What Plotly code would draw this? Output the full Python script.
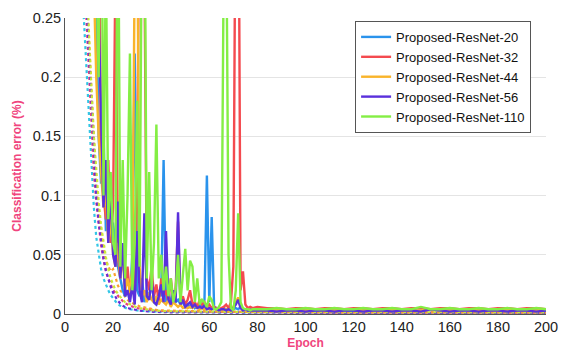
import plotly.graph_objects as go

MODELS = ["Proposed-ResNet-20", "Proposed-ResNet-32", "Proposed-ResNet-44",
          "Proposed-ResNet-56", "Proposed-ResNet-110"]
COLORS = ["#2a93ec", "#f44a4f", "#f9b42a", "#5a30dc", "#84ee44"]

DENSE_EPOCHS = list(range(1, 79))
TAIL_EPOCHS = list(range(80, 201, 4))

TEST_DENSE = [
    # ResNet-20
    [0.9, 0.8, 0.7, 0.6, 0.55, 0.5, 0.45, 0.42, 0.38, 0.35,
     0.32, 0.3, 0.27, 0.15, 0.11, 0.155, 0.07, 0.12, 0.075, 0.076,
     0.06, 0.04, 0.03, 0.02, 0.015, 0.02, 0.012, 0.05, 0.22, 0.02,
     0.015, 0.03, 0.01, 0.02, 0.012, 0.03, 0.01, 0.008, 0.02, 0.015,
     0.13, 0.01, 0.02, 0.008, 0.015, 0.01, 0.012, 0.008, 0.01, 0.006,
     0.008, 0.006, 0.01, 0.005, 0.006, 0.008, 0.005, 0.012, 0.117, 0.01,
     0.082, 0.006, 0.005, 0.004, 0.004, 0.005, 0.004, 0.004, 0.005, 0.004,
     0.005, 0.004, 0.006, 0.004, 0.004, 0.003, 0.004, 0.003],
    # ResNet-32
    [0.9, 0.85, 0.8, 0.7, 0.65, 0.6, 0.55, 0.5, 0.45, 0.4,
     0.35, 0.3, 0.26, 0.4, 0.12, 0.1, 0.08, 0.13, 0.06, 0.09,
     0.3, 0.05, 0.03, 0.06, 0.02, 0.04, 0.015, 0.03, 0.02, 0.1,
     0.4, 0.5, 0.3, 0.03, 0.02, 0.04, 0.015, 0.025, 0.01, 0.03,
     0.015, 0.02, 0.01, 0.03, 0.012, 0.02, 0.078, 0.01, 0.015, 0.008,
     0.012, 0.02, 0.008, 0.01, 0.006, 0.012, 0.008, 0.01, 0.006, 0.008,
     0.005, 0.006, 0.005, 0.004, 0.005, 0.006, 0.008, 0.005, 0.01, 0.04,
     0.4, 0.45, 0.02, 0.036, 0.008, 0.005, 0.006, 0.005],
    # ResNet-44
    [0.9, 0.8, 0.7, 0.65, 0.6, 0.55, 0.5, 0.45, 0.4, 0.35,
     0.3, 0.28, 0.2, 0.15, 0.12, 0.09, 0.1, 0.06, 0.08, 0.05,
     0.04, 0.06, 0.03, 0.05, 0.02, 0.03, 0.018, 0.04, 0.3, 0.35,
     0.04, 0.015, 0.02, 0.01, 0.018, 0.012, 0.01, 0.015, 0.008, 0.012,
     0.01, 0.008, 0.012, 0.006, 0.01, 0.008, 0.006, 0.008, 0.005, 0.006,
     0.005, 0.006, 0.005, 0.007, 0.005, 0.004, 0.005, 0.004, 0.006, 0.004,
     0.004, 0.005, 0.004, 0.004, 0.003, 0.004, 0.004, 0.003, 0.004, 0.006,
     0.01, 0.014, 0.006, 0.004, 0.003, 0.004, 0.003, 0.003],
    # ResNet-56
    [0.9, 0.85, 0.8, 0.7, 0.65, 0.6, 0.55, 0.5, 0.45, 0.4,
     0.35, 0.3, 0.28, 0.25, 0.16, 0.09, 0.13, 0.06, 0.11, 0.05,
     0.04, 0.095, 0.03, 0.06, 0.015, 0.02, 0.01, 0.025, 0.008, 0.07,
     0.02, 0.01, 0.085, 0.015, 0.012, 0.03, 0.01, 0.008, 0.015, 0.025,
     0.01, 0.07, 0.012, 0.008, 0.02, 0.01, 0.086, 0.008, 0.012, 0.006,
     0.008, 0.01, 0.006, 0.008, 0.005, 0.006, 0.005, 0.007, 0.004, 0.005,
     0.004, 0.005, 0.004, 0.003, 0.004, 0.004, 0.003, 0.004, 0.003, 0.005,
     0.008, 0.012, 0.005, 0.003, 0.004, 0.003, 0.003, 0.003],
    # ResNet-110
    [0.9, 0.85, 0.8, 0.75, 0.7, 0.65, 0.6, 0.55, 0.5, 0.45,
     0.4, 0.35, 0.3, 0.2, 0.45, 0.1, 0.3, 0.08, 0.12, 0.06,
     0.05, 0.4, 0.04, 0.13, 0.03, 0.1, 0.22, 0.02, 0.06, 0.18,
     0.04, 0.35, 0.4, 0.03, 0.12, 0.02, 0.06, 0.16, 0.03, 0.05,
     0.02, 0.04, 0.015, 0.03, 0.01, 0.02, 0.05, 0.01, 0.03, 0.055,
     0.02, 0.045, 0.04, 0.01, 0.03, 0.008, 0.012, 0.01, 0.006, 0.015,
     0.012, 0.004, 0.004, 0.006, 0.01, 0.3, 0.35, 0.05, 0.005, 0.003,
     0.02, 0.085, 0.01, 0.005, 0.004, 0.004, 0.003, 0.004],
]

TEST_TAIL = [
    [0.003, 0.004, 0.003, 0.003, 0.004, 0.003, 0.003, 0.004, 0.003, 0.003, 0.003,
     0.004, 0.003, 0.003, 0.003, 0.004, 0.003, 0.003, 0.004, 0.003, 0.003, 0.003,
     0.004, 0.003, 0.003, 0.004, 0.003, 0.003, 0.003, 0.004, 0.003],
    [0.006, 0.005, 0.005, 0.004, 0.005, 0.005, 0.004, 0.005, 0.005, 0.004, 0.005,
     0.005, 0.004, 0.005, 0.005, 0.004, 0.005, 0.005, 0.004, 0.005, 0.005, 0.004,
     0.005, 0.005, 0.004, 0.005, 0.005, 0.004, 0.005, 0.005, 0.004],
    [0.003, 0.003, 0.004, 0.003, 0.003, 0.003, 0.004, 0.003, 0.003, 0.003, 0.004,
     0.003, 0.003, 0.003, 0.004, 0.003, 0.003, 0.003, 0.004, 0.003, 0.003, 0.003,
     0.004, 0.003, 0.003, 0.003, 0.004, 0.003, 0.003, 0.003, 0.004],
    [0.003, 0.003, 0.002, 0.003, 0.003, 0.002, 0.003, 0.003, 0.002, 0.003, 0.003,
     0.002, 0.003, 0.003, 0.002, 0.003, 0.003, 0.002, 0.004, 0.003, 0.002, 0.003,
     0.003, 0.002, 0.003, 0.003, 0.002, 0.003, 0.003, 0.002, 0.003],
    [0.004, 0.004, 0.005, 0.004, 0.004, 0.005, 0.004, 0.004, 0.005, 0.004, 0.004,
     0.005, 0.004, 0.004, 0.005, 0.004, 0.004, 0.006, 0.004, 0.004, 0.005, 0.004,
     0.004, 0.005, 0.004, 0.004, 0.005, 0.004, 0.004, 0.005, 0.004],
]

TRAIN_EPOCHS = list(range(1, 41)) + list(range(45, 201, 5))
TRAIN_VALS = [
    [0.9, 0.7, 0.55, 0.45, 0.38, 0.32, 0.28, 0.25, 0.2, 0.16,
     0.12, 0.09, 0.065, 0.05, 0.038, 0.03, 0.024, 0.02, 0.016, 0.013,
     0.01, 0.008, 0.007, 0.006, 0.005, 0.0045, 0.004, 0.0035, 0.003, 0.003,
     0.0028, 0.0026, 0.0025, 0.0024, 0.0023, 0.0022, 0.0021, 0.002, 0.002, 0.0019,
     0.0018, 0.0017, 0.0016, 0.0015, 0.0015, 0.0014, 0.0014, 0.0013, 0.0013, 0.0012,
     0.0012, 0.0012, 0.0011, 0.0011, 0.0011, 0.001, 0.001, 0.001, 0.001, 0.001,
     0.001, 0.001, 0.001, 0.001, 0.001, 0.001, 0.001, 0.001, 0.001, 0.001, 0.001, 0.001],
    [0.95, 0.8, 0.65, 0.55, 0.46, 0.39, 0.33, 0.29, 0.25, 0.2,
     0.16, 0.12, 0.095, 0.075, 0.058, 0.046, 0.036, 0.03, 0.025, 0.02,
     0.018, 0.015, 0.013, 0.011, 0.009, 0.008, 0.007, 0.006, 0.0055, 0.005,
     0.0048, 0.0045, 0.004, 0.0038, 0.0035, 0.0033, 0.003, 0.0028, 0.0027, 0.0026,
     0.0024, 0.0022, 0.002, 0.0019, 0.0018, 0.0017, 0.0016, 0.0016, 0.0015, 0.0015,
     0.0014, 0.0014, 0.0014, 0.0013, 0.0013, 0.0013, 0.0013, 0.0012, 0.0012, 0.0012,
     0.0012, 0.0012, 0.0012, 0.0012, 0.0012, 0.0012, 0.0012, 0.0012, 0.0012, 0.0012, 0.0012, 0.0012],
    [0.95, 0.82, 0.7, 0.6, 0.5, 0.42, 0.36, 0.31, 0.27, 0.22,
     0.18, 0.14, 0.11, 0.085, 0.068, 0.055, 0.045, 0.04, 0.036, 0.038,
     0.03, 0.024, 0.02, 0.017, 0.014, 0.012, 0.01, 0.009, 0.008, 0.007,
     0.0065, 0.006, 0.0055, 0.005, 0.0045, 0.004, 0.0038, 0.0035, 0.0033, 0.003,
     0.0028, 0.0025, 0.0023, 0.0021, 0.002, 0.0019, 0.0018, 0.0017, 0.0016, 0.0016,
     0.0015, 0.0015, 0.0015, 0.0014, 0.0014, 0.0014, 0.0014, 0.0013, 0.0013, 0.0013,
     0.0013, 0.0013, 0.0013, 0.0013, 0.0013, 0.0013, 0.0013, 0.0013, 0.0013, 0.0013, 0.0013, 0.0013],
    [0.95, 0.8, 0.66, 0.56, 0.47, 0.4, 0.34, 0.3, 0.26, 0.21,
     0.17, 0.13, 0.1, 0.078, 0.06, 0.047, 0.037, 0.029, 0.023, 0.018,
     0.014, 0.011, 0.009, 0.007, 0.006, 0.005, 0.0045, 0.004, 0.0035, 0.003,
     0.0028, 0.0026, 0.0024, 0.0022, 0.002, 0.0019, 0.0018, 0.0017, 0.0016, 0.0015,
     0.0014, 0.0013, 0.0012, 0.0012, 0.0011, 0.0011, 0.001, 0.001, 0.001, 0.001,
     0.001, 0.001, 0.001, 0.001, 0.001, 0.001, 0.001, 0.001, 0.001, 0.001,
     0.001, 0.001, 0.001, 0.001, 0.001, 0.001, 0.001, 0.001, 0.001, 0.001, 0.001, 0.001],
    [0.98, 0.85, 0.72, 0.62, 0.53, 0.45, 0.38, 0.33, 0.28, 0.24,
     0.19, 0.15, 0.12, 0.095, 0.075, 0.06, 0.048, 0.038, 0.03, 0.025,
     0.02, 0.017, 0.014, 0.012, 0.01, 0.009, 0.008, 0.007, 0.006, 0.0055,
     0.005, 0.0045, 0.004, 0.0038, 0.0035, 0.0033, 0.003, 0.0028, 0.0027, 0.0025,
     0.0023, 0.0021, 0.002, 0.0019, 0.0018, 0.0017, 0.0017, 0.0016, 0.0016, 0.0015,
     0.0015, 0.0015, 0.0015, 0.0014, 0.0014, 0.0014, 0.0014, 0.0014, 0.0014, 0.0014,
     0.0014, 0.0014, 0.0014, 0.0014, 0.0014, 0.0014, 0.0014, 0.0014, 0.0014, 0.0014, 0.0014, 0.0014],
]
TRAIN_COLORS = ["#33c6e6", "#e8407a", "#f9a030", "#6a2cd8", "#c8e83a"]

Y_TICKS = [0, 0.05, 0.1, 0.15, 0.2, 0.25]
Y_TICK_TEXT = ["0", "0.05", "0.1", "0.15", "0.2", "0.25"]
X_TICKS = list(range(0, 201, 20))

fig = go.Figure()

# dotted training curves (drawn first, underneath)
for i in range(5):
    fig.add_trace(go.Scatter(
        x=TRAIN_EPOCHS, y=TRAIN_VALS[i], mode="lines",
        line=dict(color=TRAIN_COLORS[i], width=2.2, dash="dot"),
        showlegend=False, hoverinfo="skip"))

# solid test curves
for i in range(5):
    fig.add_trace(go.Scatter(
        x=DENSE_EPOCHS + TAIL_EPOCHS, y=TEST_DENSE[i] + TEST_TAIL[i],
        mode="lines", name=MODELS[i],
        line=dict(color=COLORS[i], width=2.4)))

FAM = "Liberation Sans, Arial, sans-serif"
axis_font = dict(family=FAM, size=14.5, color="#222")
title_font = dict(family=FAM, size=12, color="#f0457d")

fig.update_layout(
    width=568, height=358,
    margin=dict(l=65, r=18, t=10, b=42),
    paper_bgcolor="white", plot_bgcolor="white",
    font=axis_font,
    xaxis=dict(range=[0, 200], tickvals=X_TICKS, showgrid=False, zeroline=False,
               showline=True, linecolor="#555", linewidth=1, ticks="",
               tickfont=axis_font,
               title=dict(text="<b>Epoch</b>", font=title_font, standoff=4)),
    yaxis=dict(range=[0, 0.25], tickvals=Y_TICKS, ticktext=Y_TICK_TEXT,
               showgrid=True, gridcolor="#e4e4e4", gridwidth=1, zeroline=False,
               showline=True, linecolor="#555", linewidth=1, ticks="",
               tickfont=axis_font,
               title=dict(text="<b>Classification error (%)</b>", font=title_font, standoff=8)),
    legend=dict(x=0.969, y=0.99, xanchor="right", yanchor="top",
                bgcolor="white", bordercolor="#555", borderwidth=1,
                font=dict(family=FAM, size=13, color="#111"),
                tracegroupgap=0, itemwidth=30),
)

fig.write_html("out.html")
